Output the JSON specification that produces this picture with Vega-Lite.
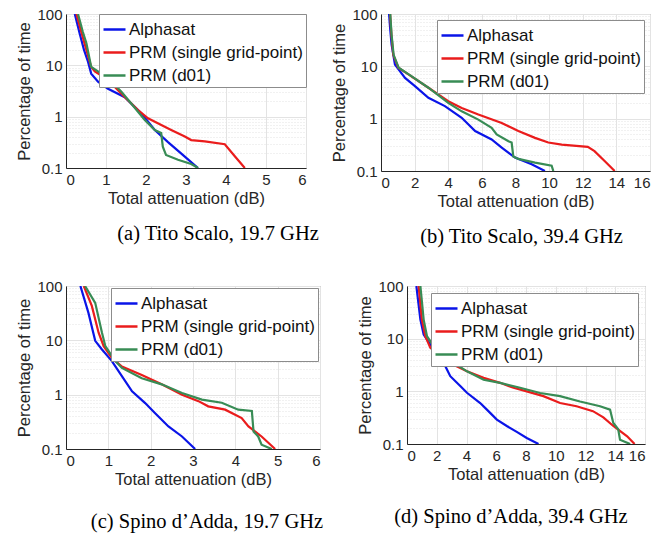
{
  "$schema": "https://vega.github.io/schema/vega-lite/v6.json",
  "padding": {"left": 16, "top": 6, "right": 5, "bottom": 5},
  "autosize": {"type": "pad"},
  "spacing": 30,
  "datasets": {
    "all": [
      {"p":"a","s":"Alphasat","x":0.22,"y":100},{"p":"a","s":"Alphasat","x":0.34,"y":42},{"p":"a","s":"Alphasat","x":0.45,"y":20},{"p":"a","s":"Alphasat","x":0.55,"y":11.8},{"p":"a","s":"Alphasat","x":0.63,"y":6.9},{"p":"a","s":"Alphasat","x":0.8,"y":4.8},{"p":"a","s":"Alphasat","x":1.05,"y":3.5},{"p":"a","s":"Alphasat","x":1.47,"y":2.4},{"p":"a","s":"Alphasat","x":1.88,"y":1.16},{"p":"a","s":"Alphasat","x":2.22,"y":0.55},{"p":"a","s":"Alphasat","x":2.55,"y":0.32},{"p":"a","s":"Alphasat","x":2.97,"y":0.166},{"p":"a","s":"Alphasat","x":3.3,"y":0.1},
      {"p":"a","s":"PRM (single grid-point)","x":0.26,"y":100},{"p":"a","s":"PRM (single grid-point)","x":0.4,"y":40},{"p":"a","s":"PRM (single grid-point)","x":0.51,"y":20},{"p":"a","s":"PRM (single grid-point)","x":0.63,"y":9.3},{"p":"a","s":"PRM (single grid-point)","x":0.72,"y":7.6},{"p":"a","s":"PRM (single grid-point)","x":1.05,"y":5.2},{"p":"a","s":"PRM (single grid-point)","x":1.47,"y":2.4},{"p":"a","s":"PRM (single grid-point)","x":1.8,"y":1.35},{"p":"a","s":"PRM (single grid-point)","x":2.05,"y":0.93},{"p":"a","s":"PRM (single grid-point)","x":2.63,"y":0.55},{"p":"a","s":"PRM (single grid-point)","x":2.97,"y":0.41},{"p":"a","s":"PRM (single grid-point)","x":3.13,"y":0.35},{"p":"a","s":"PRM (single grid-point)","x":3.47,"y":0.33},{"p":"a","s":"PRM (single grid-point)","x":3.97,"y":0.29},{"p":"a","s":"PRM (single grid-point)","x":4.22,"y":0.17},{"p":"a","s":"PRM (single grid-point)","x":4.47,"y":0.1},
      {"p":"a","s":"PRM (d01)","x":0.3,"y":100},{"p":"a","s":"PRM (d01)","x":0.42,"y":45},{"p":"a","s":"PRM (d01)","x":0.51,"y":27},{"p":"a","s":"PRM (d01)","x":0.63,"y":9.3},{"p":"a","s":"PRM (d01)","x":0.8,"y":7.6},{"p":"a","s":"PRM (d01)","x":1.05,"y":5.6},{"p":"a","s":"PRM (d01)","x":1.38,"y":3.1},{"p":"a","s":"PRM (d01)","x":1.63,"y":1.8},{"p":"a","s":"PRM (d01)","x":1.97,"y":0.86},{"p":"a","s":"PRM (d01)","x":2.22,"y":0.55},{"p":"a","s":"PRM (d01)","x":2.38,"y":0.48},{"p":"a","s":"PRM (d01)","x":2.42,"y":0.26},{"p":"a","s":"PRM (d01)","x":2.5,"y":0.18},{"p":"a","s":"PRM (d01)","x":2.8,"y":0.145},{"p":"a","s":"PRM (d01)","x":3.13,"y":0.12},{"p":"a","s":"PRM (d01)","x":3.3,"y":0.1},

      {"p":"b","s":"Alphasat","x":0.48,"y":100},{"p":"b","s":"Alphasat","x":0.55,"y":50},{"p":"b","s":"Alphasat","x":0.63,"y":26},{"p":"b","s":"Alphasat","x":0.83,"y":10.8},{"p":"b","s":"Alphasat","x":1.43,"y":6.0},{"p":"b","s":"Alphasat","x":2.02,"y":4.2},{"p":"b","s":"Alphasat","x":2.82,"y":2.5},{"p":"b","s":"Alphasat","x":3.8,"y":1.74},{"p":"b","s":"Alphasat","x":4.8,"y":1.04},{"p":"b","s":"Alphasat","x":5.6,"y":0.58},{"p":"b","s":"Alphasat","x":6.58,"y":0.4},{"p":"b","s":"Alphasat","x":7.18,"y":0.28},{"p":"b","s":"Alphasat","x":7.97,"y":0.18},{"p":"b","s":"Alphasat","x":8.96,"y":0.134},{"p":"b","s":"Alphasat","x":9.75,"y":0.1},
      {"p":"b","s":"PRM (single grid-point)","x":0.54,"y":100},{"p":"b","s":"PRM (single grid-point)","x":0.62,"y":40},{"p":"b","s":"PRM (single grid-point)","x":0.73,"y":16.6},{"p":"b","s":"PRM (single grid-point)","x":1.03,"y":9.4},{"p":"b","s":"PRM (single grid-point)","x":1.63,"y":7.0},{"p":"b","s":"PRM (single grid-point)","x":2.82,"y":3.9},{"p":"b","s":"PRM (single grid-point)","x":4.0,"y":2.15},{"p":"b","s":"PRM (single grid-point)","x":4.8,"y":1.6},{"p":"b","s":"PRM (single grid-point)","x":5.79,"y":1.2},{"p":"b","s":"PRM (single grid-point)","x":7.18,"y":0.83},{"p":"b","s":"PRM (single grid-point)","x":8.17,"y":0.58},{"p":"b","s":"PRM (single grid-point)","x":9.16,"y":0.43},{"p":"b","s":"PRM (single grid-point)","x":9.95,"y":0.35},{"p":"b","s":"PRM (single grid-point)","x":10.75,"y":0.32},{"p":"b","s":"PRM (single grid-point)","x":12.3,"y":0.29},{"p":"b","s":"PRM (single grid-point)","x":12.7,"y":0.24},{"p":"b","s":"PRM (single grid-point)","x":13.3,"y":0.155},{"p":"b","s":"PRM (single grid-point)","x":13.9,"y":0.1},
      {"p":"b","s":"PRM (d01)","x":0.55,"y":100},{"p":"b","s":"PRM (d01)","x":0.63,"y":40},{"p":"b","s":"PRM (d01)","x":0.75,"y":16.6},{"p":"b","s":"PRM (d01)","x":1.05,"y":9.4},{"p":"b","s":"PRM (d01)","x":1.65,"y":7.0},{"p":"b","s":"PRM (d01)","x":2.82,"y":3.9},{"p":"b","s":"PRM (d01)","x":4.0,"y":2.0},{"p":"b","s":"PRM (d01)","x":4.8,"y":1.38},{"p":"b","s":"PRM (d01)","x":5.79,"y":0.96},{"p":"b","s":"PRM (d01)","x":6.58,"y":0.67},{"p":"b","s":"PRM (d01)","x":6.88,"y":0.5},{"p":"b","s":"PRM (d01)","x":7.58,"y":0.37},{"p":"b","s":"PRM (d01)","x":7.77,"y":0.35},{"p":"b","s":"PRM (d01)","x":7.87,"y":0.19},{"p":"b","s":"PRM (d01)","x":8.17,"y":0.17},{"p":"b","s":"PRM (d01)","x":9.16,"y":0.145},{"p":"b","s":"PRM (d01)","x":10.15,"y":0.126},{"p":"b","s":"PRM (d01)","x":10.25,"y":0.1},

      {"p":"c","s":"Alphasat","x":0.34,"y":100},{"p":"c","s":"Alphasat","x":0.53,"y":32},{"p":"c","s":"Alphasat","x":0.69,"y":9.8},{"p":"c","s":"Alphasat","x":0.85,"y":6.8},{"p":"c","s":"Alphasat","x":1.08,"y":4.2},{"p":"c","s":"Alphasat","x":1.32,"y":2.2},{"p":"c","s":"Alphasat","x":1.56,"y":1.15},{"p":"c","s":"Alphasat","x":1.87,"y":0.7},{"p":"c","s":"Alphasat","x":2.1,"y":0.46},{"p":"c","s":"Alphasat","x":2.42,"y":0.26},{"p":"c","s":"Alphasat","x":2.74,"y":0.17},{"p":"c","s":"Alphasat","x":3.05,"y":0.1},
      {"p":"c","s":"PRM (single grid-point)","x":0.42,"y":100},{"p":"c","s":"PRM (single grid-point)","x":0.61,"y":43},{"p":"c","s":"PRM (single grid-point)","x":0.77,"y":13.8},{"p":"c","s":"PRM (single grid-point)","x":0.89,"y":7.8},{"p":"c","s":"PRM (single grid-point)","x":1.08,"y":4.8},{"p":"c","s":"PRM (single grid-point)","x":1.32,"y":3.3},{"p":"c","s":"PRM (single grid-point)","x":1.79,"y":2.3},{"p":"c","s":"PRM (single grid-point)","x":2.26,"y":1.55},{"p":"c","s":"PRM (single grid-point)","x":2.74,"y":1.0},{"p":"c","s":"PRM (single grid-point)","x":3.13,"y":0.76},{"p":"c","s":"PRM (single grid-point)","x":3.36,"y":0.61},{"p":"c","s":"PRM (single grid-point)","x":3.76,"y":0.53},{"p":"c","s":"PRM (single grid-point)","x":4.15,"y":0.37},{"p":"c","s":"PRM (single grid-point)","x":4.31,"y":0.26},{"p":"c","s":"PRM (single grid-point)","x":4.62,"y":0.17},{"p":"c","s":"PRM (single grid-point)","x":4.94,"y":0.1},
      {"p":"c","s":"PRM (d01)","x":0.45,"y":100},{"p":"c","s":"PRM (d01)","x":0.69,"y":49},{"p":"c","s":"PRM (d01)","x":0.85,"y":13.8},{"p":"c","s":"PRM (d01)","x":0.93,"y":7.8},{"p":"c","s":"PRM (d01)","x":1.16,"y":4.2},{"p":"c","s":"PRM (d01)","x":1.32,"y":3.1},{"p":"c","s":"PRM (d01)","x":1.79,"y":2.0},{"p":"c","s":"PRM (d01)","x":2.26,"y":1.55},{"p":"c","s":"PRM (d01)","x":2.74,"y":1.07},{"p":"c","s":"PRM (d01)","x":3.21,"y":0.81},{"p":"c","s":"PRM (d01)","x":3.68,"y":0.71},{"p":"c","s":"PRM (d01)","x":4.07,"y":0.53},{"p":"c","s":"PRM (d01)","x":4.39,"y":0.5},{"p":"c","s":"PRM (d01)","x":4.43,"y":0.21},{"p":"c","s":"PRM (d01)","x":4.54,"y":0.17},{"p":"c","s":"PRM (d01)","x":4.62,"y":0.12},{"p":"c","s":"PRM (d01)","x":4.86,"y":0.1},

      {"p":"d","s":"Alphasat","x":0.63,"y":100},{"p":"d","s":"Alphasat","x":0.9,"y":23},{"p":"d","s":"Alphasat","x":1.12,"y":12},{"p":"d","s":"Alphasat","x":1.57,"y":7.7},{"p":"d","s":"Alphasat","x":2.01,"y":5.4},{"p":"d","s":"Alphasat","x":2.46,"y":3.5},{"p":"d","s":"Alphasat","x":2.91,"y":1.94},{"p":"d","s":"Alphasat","x":3.58,"y":1.26},{"p":"d","s":"Alphasat","x":4.03,"y":0.94},{"p":"d","s":"Alphasat","x":4.92,"y":0.6},{"p":"d","s":"Alphasat","x":5.37,"y":0.45},{"p":"d","s":"Alphasat","x":6.04,"y":0.29},{"p":"d","s":"Alphasat","x":6.71,"y":0.22},{"p":"d","s":"Alphasat","x":7.38,"y":0.17},{"p":"d","s":"Alphasat","x":8.05,"y":0.13},{"p":"d","s":"Alphasat","x":8.84,"y":0.1},
      {"p":"d","s":"PRM (single grid-point)","x":0.78,"y":100},{"p":"d","s":"PRM (single grid-point)","x":1.0,"y":23},{"p":"d","s":"PRM (single grid-point)","x":1.23,"y":11.2},{"p":"d","s":"PRM (single grid-point)","x":1.57,"y":6.7},{"p":"d","s":"PRM (single grid-point)","x":2.24,"y":4.7},{"p":"d","s":"PRM (single grid-point)","x":3.13,"y":3.2},{"p":"d","s":"PRM (single grid-point)","x":4.03,"y":2.4},{"p":"d","s":"PRM (single grid-point)","x":5.15,"y":1.8},{"p":"d","s":"PRM (single grid-point)","x":6.26,"y":1.45},{"p":"d","s":"PRM (single grid-point)","x":7.16,"y":1.17},{"p":"d","s":"PRM (single grid-point)","x":8.05,"y":1.0},{"p":"d","s":"PRM (single grid-point)","x":9.17,"y":0.81},{"p":"d","s":"PRM (single grid-point)","x":10.29,"y":0.6},{"p":"d","s":"PRM (single grid-point)","x":11.4,"y":0.52},{"p":"d","s":"PRM (single grid-point)","x":12.5,"y":0.42},{"p":"d","s":"PRM (single grid-point)","x":13.2,"y":0.32},{"p":"d","s":"PRM (single grid-point)","x":13.87,"y":0.22},{"p":"d","s":"PRM (single grid-point)","x":14.8,"y":0.14},{"p":"d","s":"PRM (single grid-point)","x":15.3,"y":0.1},
      {"p":"d","s":"PRM (d01)","x":0.9,"y":100},{"p":"d","s":"PRM (d01)","x":1.12,"y":23},{"p":"d","s":"PRM (d01)","x":1.34,"y":11.2},{"p":"d","s":"PRM (d01)","x":1.79,"y":7.2},{"p":"d","s":"PRM (d01)","x":2.24,"y":5.4},{"p":"d","s":"PRM (d01)","x":3.13,"y":3.5},{"p":"d","s":"PRM (d01)","x":4.03,"y":2.4},{"p":"d","s":"PRM (d01)","x":5.15,"y":1.66},{"p":"d","s":"PRM (d01)","x":6.26,"y":1.45},{"p":"d","s":"PRM (d01)","x":7.6,"y":1.17},{"p":"d","s":"PRM (d01)","x":8.95,"y":0.93},{"p":"d","s":"PRM (d01)","x":10.29,"y":0.81},{"p":"d","s":"PRM (d01)","x":11.63,"y":0.64},{"p":"d","s":"PRM (d01)","x":12.98,"y":0.52},{"p":"d","s":"PRM (d01)","x":13.65,"y":0.45},{"p":"d","s":"PRM (d01)","x":13.87,"y":0.25},{"p":"d","s":"PRM (d01)","x":14.2,"y":0.19},{"p":"d","s":"PRM (d01)","x":14.32,"y":0.12},{"p":"d","s":"PRM (d01)","x":15.0,"y":0.1}
    ]
  },
  "resolve": {"legend": {"color": "independent"}},
  "vconcat": [
    {
      "hconcat": [
        {
          "width": 240, "height": 154,
          "data": {"name": "all"},
          "transform": [{"filter": "datum.p == 'a'"}],
          "title": {"text": "(a) Tito Scalo, 19.7 GHz", "dx": 32, "offset": 17},
          "mark": {"type": "line", "strokeWidth": 2.2, "clip": true},
          "encoding": {
            "x": {"field": "x", "type": "quantitative", "scale": {"domain": [0, 6], "nice": false}, "axis": {"values": [0,1,2,3,4,5,6], "title": "Total attenuation (dB)"}},
            "y": {"field": "y", "type": "quantitative", "scale": {"type": "log", "domain": [0.1, 100], "nice": false}, "axis": {"title": "Percentage of time"}},
            "color": {"field": "s", "type": "nominal", "scale": {"domain": ["Alphasat", "PRM (single grid-point)", "PRM (d01)"], "range": ["#0a14e8", "#ea1c1c", "#388c55"]}, "legend": {"offset": 0}},
            "order": {"field": "y", "sort": "descending"}
          }
        },
        {
          "width": 269, "height": 157,
          "data": {"name": "all"},
          "transform": [{"filter": "datum.p == 'b'"}],
          "title": {"text": "(b) Tito Scalo, 39.4 GHz", "dx": 6, "offset": 17},
          "mark": {"type": "line", "strokeWidth": 2.2, "clip": true},
          "encoding": {
            "x": {"field": "x", "type": "quantitative", "scale": {"domain": [0, 16], "nice": false}, "axis": {"values": [0,2,4,6,8,10,12,14,16], "title": "Total attenuation (dB)"}},
            "y": {"field": "y", "type": "quantitative", "scale": {"type": "log", "domain": [0.1, 100], "nice": false}, "axis": {"title": "Percentage of time"}},
            "color": {"field": "s", "type": "nominal", "scale": {"domain": ["Alphasat", "PRM (single grid-point)", "PRM (d01)"], "range": ["#0a14e8", "#ea1c1c", "#388c55"]}, "legend": {"offset": 6}},
            "order": {"field": "y", "sort": "descending"}
          }
        }
      ],
      "spacing": 11,
      "resolve": {"legend": {"color": "independent"}}
    },
    {
      "hconcat": [
        {
          "width": 254, "height": 163,
          "data": {"name": "all"},
          "transform": [{"filter": "datum.p == 'c'"}],
          "title": {"text": "(c) Spino d\u2019Adda, 19.7 GHz", "dx": 14, "offset": 24},
          "mark": {"type": "line", "strokeWidth": 2.2, "clip": true},
          "encoding": {
            "x": {"field": "x", "type": "quantitative", "scale": {"domain": [0, 6], "nice": false}, "axis": {"values": [0,1,2,3,4,5,6], "title": "Total attenuation (dB)"}},
            "y": {"field": "y", "type": "quantitative", "scale": {"type": "log", "domain": [0.1, 100], "nice": false}, "axis": {"title": "Percentage of time"}},
            "color": {"field": "s", "type": "nominal", "scale": {"domain": ["Alphasat", "PRM (single grid-point)", "PRM (d01)"], "range": ["#0a14e8", "#ea1c1c", "#388c55"]}, "legend": {"offset": 2}},
            "order": {"field": "y", "sort": "descending"}
          }
        },
        {
          "width": 238, "height": 158,
          "data": {"name": "all"},
          "transform": [{"filter": "datum.p == 'd'"}],
          "title": {"text": "(d) Spino d\u2019Adda, 39.4 GHz", "dx": -15, "offset": 24},
          "mark": {"type": "line", "strokeWidth": 2.2, "clip": true},
          "encoding": {
            "x": {"field": "x", "type": "quantitative", "scale": {"domain": [0, 16], "nice": false}, "axis": {"values": [0,2,4,6,8,10,12,14,16], "title": "Total attenuation (dB)"}},
            "y": {"field": "y", "type": "quantitative", "scale": {"type": "log", "domain": [0.1, 100], "nice": false}, "axis": {"title": "Percentage of time"}},
            "color": {"field": "s", "type": "nominal", "scale": {"domain": ["Alphasat", "PRM (single grid-point)", "PRM (d01)"], "range": ["#0a14e8", "#ea1c1c", "#388c55"]}, "legend": {"offset": 7}},
            "order": {"field": "y", "sort": "descending"}
          }
        }
      ],
      "spacing": 33,
      "resolve": {"legend": {"color": "independent"}}
    }
  ],
  "config": {
    "view": {"stroke": "#8c8c8c", "strokeWidth": 1},
    "axis": {
      "labelFont": "Liberation Sans", "titleFont": "Liberation Sans",
      "labelFontSize": 15, "titleFontSize": 16.5, "titleFontWeight": "normal",
      "labelColor": "#262626", "titleColor": "#262626",
      "domainColor": "#262626", "gridColor": "#e3e3e3", "ticks": false,
      "labelPadding": 4, "titlePadding": 3
    },
    "axisY": {
      "values": [0.1,0.2,0.3,0.4,0.5,0.6,0.7,0.8,0.9,1,2,3,4,5,6,7,8,9,10,20,30,40,50,60,70,80,90,100],
      "format": "~g",
      "labelExpr": "(datum.value == 0.1 || datum.value == 1 || datum.value == 10 || datum.value == 100) ? datum.label : ''",
      "gridDash": {"condition": {"test": "datum.value == 0.1 || datum.value == 1 || datum.value == 10 || datum.value == 100", "value": []}, "value": [1, 2]},
      "titlePadding": 4
    },
    "legend": {
      "orient": "top-right", "title": null,
      "labelFont": "Liberation Sans", "labelFontSize": 17, "labelColor": "#111111", "labelLimit": 400,
      "symbolType": "stroke", "symbolSize": 484, "symbolStrokeWidth": 2.5,
      "labelOffset": 2, "rowPadding": 2, "padding": 3,
      "fillColor": "white", "strokeColor": "#8c8c8c"
    },
    "title": {
      "orient": "bottom", "font": "Liberation Serif", "fontSize": 20.5,
      "fontWeight": "normal", "color": "#000000", "anchor": "middle"
    }
  }
}
